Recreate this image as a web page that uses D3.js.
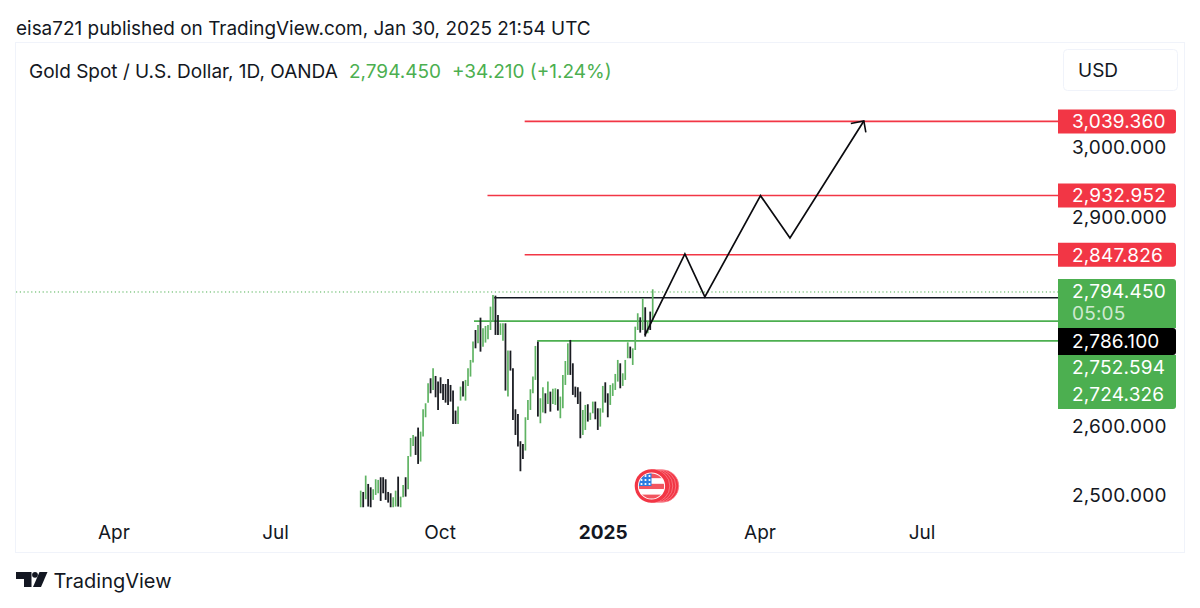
<!DOCTYPE html>
<html><head><meta charset="utf-8">
<style>html,body{margin:0;padding:0;background:#fff}svg{display:block}text{font-family:Inter,Roboto,sans-serif}</style>
<script src="https://cdnjs.cloudflare.com/ajax/libs/d3/7.8.5/d3.min.js"></script>
</head><body><svg id="c" width="1200" height="608"></svg>
<script>
const barHigh=[2509.3,2507.4,2530.9,2518.9,2514.1,2511.3,2525.6,2524.7,2528.5,2528.5,2525.6,2507.4,2505.5,2499.8,2509.3,2529.4,2500.7,2517.5,2528.5,2559.1,2584.9,2589.2,2586.9,2599.8,2594,2626.1,2634.7,2663.4,2670.6,2684.9,2673.9,2665.8,2672,2662.4,2662.4,2669.6,2661,2652.9,2624.2,2629.9,2658.6,2666.3,2668.2,2684.9,2696.9,2723.2,2739.9,2747.1,2757.6,2742.3,2745.7,2747.1,2773.4,2790.2,2789.2,2761.5,2749.5,2749.5,2749.5,2710.3,2710.3,2684.9,2626.1,2619.4,2580.2,2576.3,2614.6,2639.5,2654.8,2673,2717,2723.2,2641.9,2657.7,2649,2665.8,2651.4,2655.7,2656.2,2654.8,2644.3,2675.4,2695.4,2720.8,2725.6,2692.1,2658.6,2657.7,2651.4,2625.1,2632.3,2633.3,2621.3,2637.1,2637.1,2627.5,2627.5,2659.6,2664.8,2649,2661,2663.4,2676.8,2696.9,2692.1,2677.7,2696.9,2722.2,2716,2713.6,2744.7,2763.9,2758.1,2785.4,2772.5,2751.9,2766.3,2798.3];
const barLow=[2485.4,2485.4,2496.9,2486.4,2485.4,2496,2503.1,2505.5,2494.5,2505.5,2496,2492.1,2485.4,2485.4,2486.4,2486.4,2485.4,2499.8,2500.7,2511.3,2558.1,2573.5,2560.5,2547.6,2551,2586.9,2614.6,2635.6,2649,2653.8,2643.3,2625.1,2649,2639.5,2635.6,2632.3,2637.1,2605,2605,2605,2638.5,2644.3,2638.5,2659.6,2673,2693.1,2713.6,2720.8,2708.8,2716,2721.8,2726.5,2739.9,2751.9,2732.8,2732.8,2732.8,2724.6,2652.9,2644.3,2681.6,2610.8,2589.2,2572.5,2537.1,2554.8,2566.8,2610.8,2625.1,2649,2668.2,2615.6,2606,2621.3,2620.3,2633.7,2622.7,2633.7,2632.3,2624.2,2613.2,2627.5,2661,2675.4,2675.4,2646.7,2643.3,2633.7,2584.5,2589.2,2596.4,2608.4,2610.8,2620.3,2611.7,2596.4,2601.2,2621.3,2635.6,2614.6,2632.3,2645.2,2653.8,2665.8,2656.2,2659.6,2668.2,2699.3,2699.3,2689.7,2711.2,2739.9,2736.1,2739.9,2730.4,2735.2,2739.9,2751.9];
const barUp=[1,0,1,0,0,1,1,1,0,0,0,0,0,1,1,0,1,1,0,1,1,1,0,0,1,1,1,1,0,1,0,0,0,0,0,0,0,0,0,1,1,0,1,1,1,1,0,1,0,1,1,1,1,1,0,0,1,1,0,1,0,0,0,0,0,0,1,1,1,1,1,0,1,1,0,1,0,1,1,0,1,1,1,1,0,0,0,0,0,1,1,0,1,1,0,0,1,1,0,0,1,1,1,1,0,1,1,1,0,1,1,1,0,1,0,1,0,1];
const levelPrices=[3039.36,2932.952,2847.826,2786.1,2752.594,2724.326];
const levelStart=[65.7,50.8,65.7,53.5,45.4,70.7];
const levelColors=["#f23645","#f23645","#f23645","#131722","#4caf50","#4caf50"];
const pathIndex=[113.9,129.9,137.9,160.2,172,201.6];
const pathPrice=[2732.7,2849,2787.3,2932.7,2872,3040];
const priceTicks=[3000,2900,2600,2500];
const timeTickIndex=[-99.1,-34.3,31.6,97,159.8,224.7];
const timeTickLabels=["Apr","Jul","Oct","2025","Apr","Jul"];
const lastPrice=2794.45;
const countdown="05:05";
const greenLabelCentres=[291,367,394];

const svg=d3.select("#c");
const green="#4caf50",red="#f23645",ink="#131722";
const x=d3.scaleLinear().domain([0,117]).range([360.7,652.7]);
const y=d3.scaleLinear().domain([2500,3000]).range([497.1,148.8]);
const F=",.3f";
const LS=19, NUMSPACE="letter-spacing:.2px";

svg.append("text").attr("x",16).attr("y",34.5).attr("font-size",18.96).attr("fill",ink).text("eisa721 published on TradingView.com, Jan 30, 2025 21:54 UTC");
svg.append("rect").attr("x",15.5).attr("y",42.5).attr("width",1169).attr("height",510).attr("fill","#fff").attr("stroke","#f0f3fa");

const legendY=77.5;
svg.append("text").attr("x",29).attr("y",legendY).attr("font-size",LS).attr("fill",ink).text("Gold Spot / U.S. Dollar, 1D, OANDA");
svg.append("text").attr("x",349).attr("y",legendY).attr("font-size",LS).attr("fill",green).text("2,794.450");
svg.append("text").attr("x",452).attr("y",legendY).attr("font-size",LS).attr("fill",green).text("+34.210 (+1.24%)");

svg.append("rect").attr("x",1063.5).attr("y",49.5).attr("width",114).attr("height",41).attr("rx",4).attr("fill","#fff").attr("stroke","#f0f3fa");
svg.append("text").attr("x",1078).attr("y",76.5).attr("font-size",LS).attr("fill",ink).text("USD");

svg.append("line").attr("x1",16).attr("x2",1058).attr("y1",y(lastPrice)).attr("y2",y(lastPrice))
  .attr("stroke",green).attr("stroke-width",1).attr("stroke-dasharray","1.2 2.6");

svg.append("g").selectAll("line").data(levelPrices).join("line")
  .attr("x1",(d,i)=>x(levelStart[i])).attr("x2",1058)
  .attr("y1",d=>y(d)).attr("y2",d=>y(d))
  .attr("stroke",(d,i)=>levelColors[i]).attr("stroke-width",1.6);

svg.append("g").selectAll("line").data(barHigh).join("line")
  .attr("x1",(d,i)=>x(i)).attr("x2",(d,i)=>x(i))
  .attr("y1",d=>y(d)).attr("y2",(d,i)=>y(barLow[i]))
  .attr("stroke",(d,i)=>barUp[i]?"#5fb363":"#1a1c22").attr("stroke-width",(d,i)=>barUp[i]?1.7:1.8);

const pts=pathIndex.map((d,i)=>[x(d),y(pathPrice[i])]);
svg.append("path").attr("d",d3.line()(pts)).attr("fill","none").attr("stroke","#0b0b0f").attr("stroke-width",1.7).attr("stroke-linejoin","miter");
const tip=pts[pts.length-1];
svg.append("path").attr("d",d3.line()([[tip[0]-13,tip[1]+2.5],tip,[tip[0]+2,tip[1]+11.5]])).attr("fill","none").attr("stroke","#0b0b0f").attr("stroke-width",1.6);

// US flag event marker
const fx=651.5,fy=486;
const f=svg.append("g").attr("transform",`translate(${fx},${fy})`);
[11,8,5,2].forEach(cx=>{
  f.append("circle").attr("cx",cx).attr("cy",0).attr("r",16.3).attr("fill",red).attr("stroke","#f98a93").attr("stroke-width",.7);
});
f.append("circle").attr("r",16.8).attr("fill",red);
f.append("circle").attr("r",13.6).attr("fill","#fff");
const cp=svg.append("defs").append("clipPath").attr("id","fl");cp.append("circle").attr("cx",fx).attr("cy",fy).attr("r",12.6);
const fc=svg.append("g").attr("clip-path","url(#fl)");
["#f25560","#fff","#f25560","#fff","#f25560"].forEach((c,i)=>{
  fc.append("rect").attr("x",fx-14).attr("y",fy-13+i*5.4).attr("width",28).attr("height",5.4).attr("fill",c);
});
fc.append("rect").attr("x",fx-14).attr("y",fy-13).attr("width",14).attr("height",13).attr("fill","#2a7de1");
d3.range(3).forEach(r=>d3.range(3).forEach(c=>{
  fc.append("circle").attr("cx",fx-10+c*4).attr("cy",fy-10+r*4).attr("r",1.1).attr("fill","#fff");
}));

// price axis
const yAxis=d3.axisRight(y).tickValues(priceTicks).tickFormat(d3.format(F)).tickSize(0).tickPadding(14);
const ga=svg.append("g").attr("transform","translate(1058,-1.5)").call(yAxis);
ga.select(".domain").remove();
ga.selectAll("text").attr("font-size",LS).attr("fill",ink).attr("style",NUMSPACE);

// price labels
function lab(yTop,h,fill,r){
  const rr=3;
  svg.append("path").attr("d",`M1058 ${yTop}H${1176-(r&1?rr:0)}${r&1?`Q1176 ${yTop} 1176 ${yTop+rr}`:""}V${yTop+h-(r&2?rr:0)}${r&2?`Q1176 ${yTop+h} ${1176-rr} ${yTop+h}`:""}H1058Z`).attr("fill",fill);
}
const tx=(cy,fill,s)=>svg.append("text").attr("x",1072).attr("y",cy+6.8).attr("font-size",LS).attr("fill",fill).attr("style",NUMSPACE).text(s);
[0,1,2].forEach(i=>{lab(y(levelPrices[i])-12,24,red,3);tx(y(levelPrices[i]),"#fff",d3.format(F)(levelPrices[i]));});
lab(279,49,green,1);
lab(355,54,green,2);
lab(328,27,"#000",3);
tx(greenLabelCentres[0],"#fff",d3.format(F)(lastPrice));
tx(313,"#cfe9d0",countdown);
tx(341,"#fff",d3.format(F)(levelPrices[3]));
tx(greenLabelCentres[1],"#fff",d3.format(F)(levelPrices[4]));
tx(greenLabelCentres[2],"#fff",d3.format(F)(levelPrices[5]));

// time axis
const xAxis=d3.axisBottom(x).tickValues(timeTickIndex).tickFormat((d,i)=>timeTickLabels[i]).tickSize(0).tickPadding(0);
const gx=svg.append("g").attr("transform","translate(0,525)").call(xAxis);
gx.select(".domain").remove();
gx.selectAll("text").attr("font-size",LS).attr("fill",ink).attr("font-weight",(d,i)=>timeTickLabels[i]==="2025"?700:400);

// logo
const logo=svg.append("g").attr("fill",ink);
logo.append("path").attr("d","M16 572H31.5V587H24V579H16Z");
logo.append("circle").attr("cx",35).attr("cy",574.8).attr("r",2.9);
logo.append("path").attr("d","M39.5 572H47.5L41 587H33Z");
svg.append("text").attr("x",53.5).attr("y",588).attr("font-size",20).attr("fill",ink).text("TradingView");
</script></body></html>
